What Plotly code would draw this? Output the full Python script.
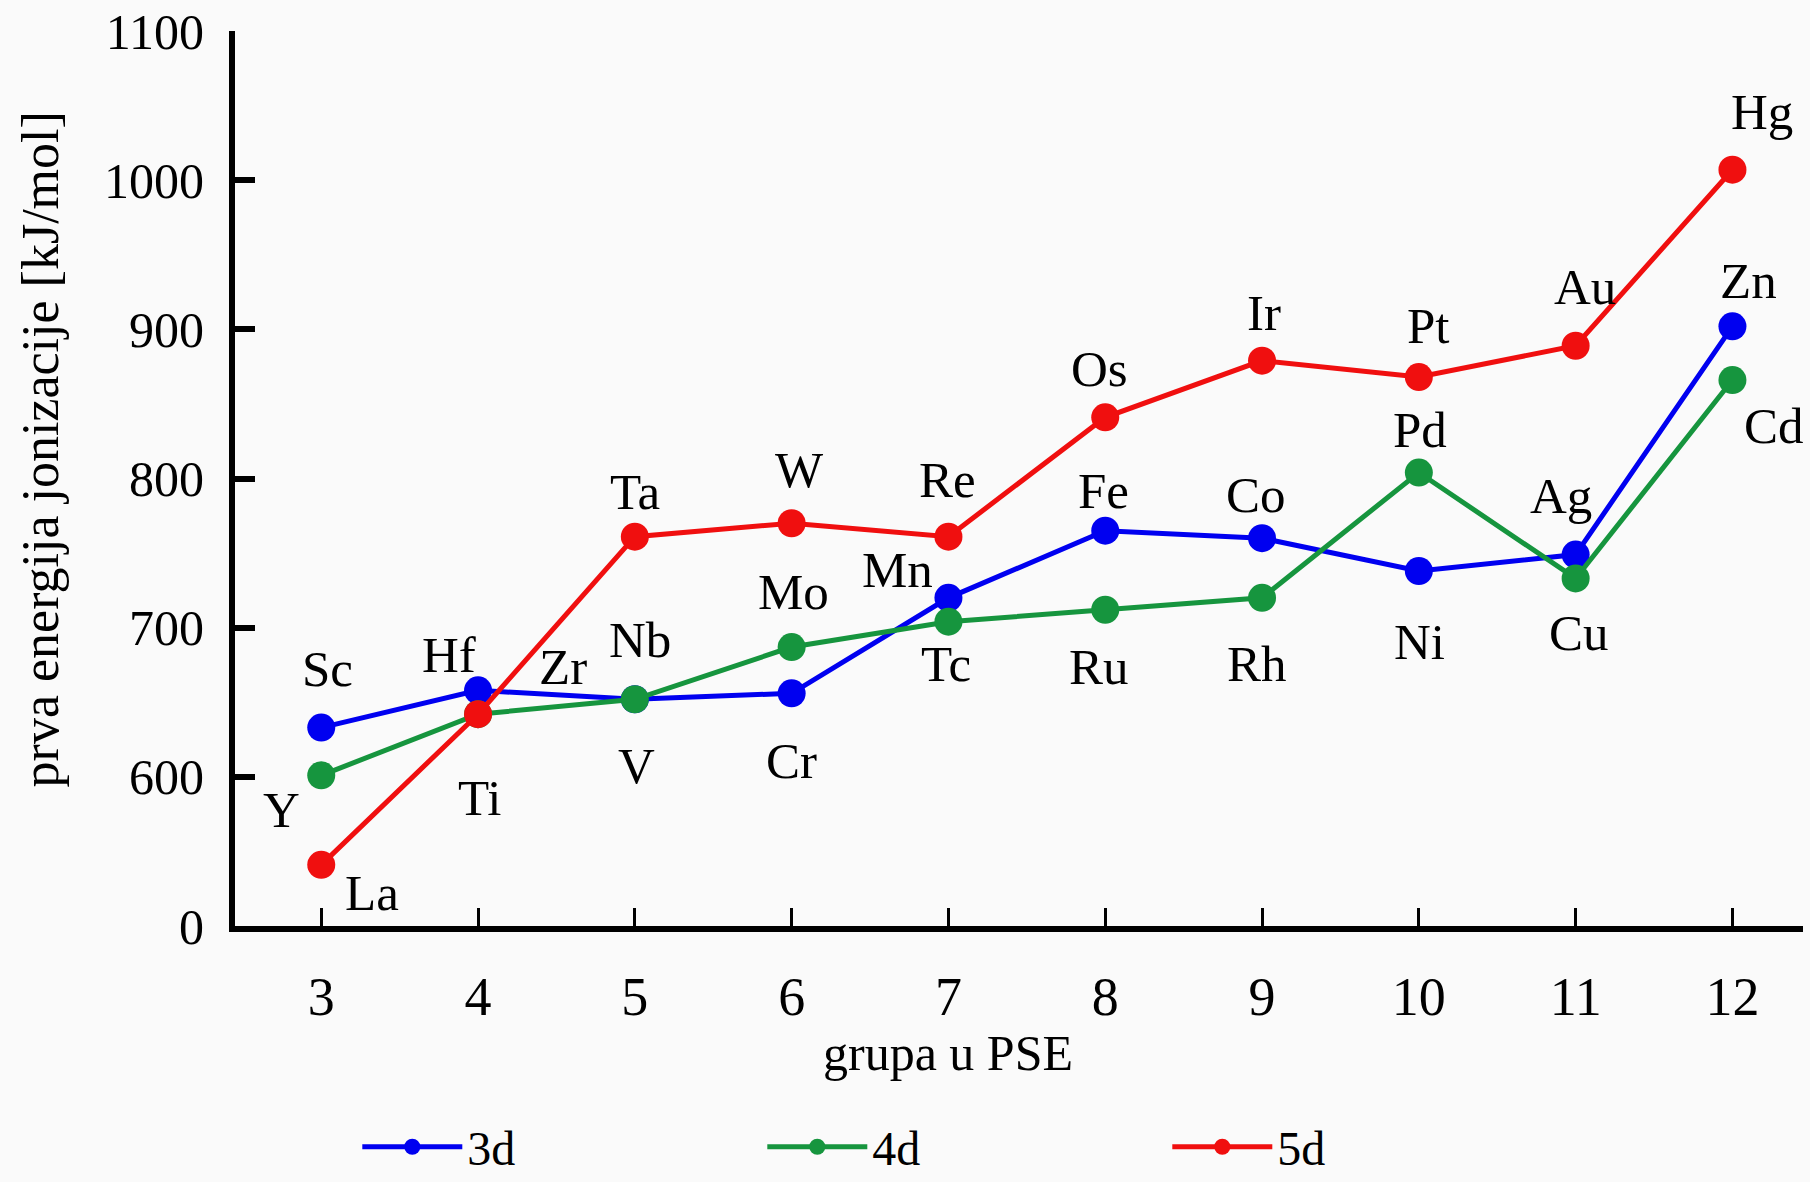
import plotly.graph_objects as go

# ---- data ----
groups = [3, 4, 5, 6, 7, 8, 9, 10, 11, 12]
ie_3d = [633, 658, 652, 656, 720, 765, 760, 738, 749, 902]
ie_4d = [601, 642, 652, 687, 704, 712, 720, 804, 733, 866]
ie_5d = [541, 642, 761, 770, 761, 841, 879, 868, 889, 1007]

labels_3d = ["Sc", "Ti", "V", "Cr", "Mn", "Fe", "Co", "Ni", "Ag", "Zn"]
labels_4d = ["Y", "Zr", "Nb", "Mo", "Tc", "Ru", "Rh", "Pd", "Cu", "Cd"]
labels_5d = ["La", "Hf", "Ta", "W", "Re", "Os", "Ir", "Pt", "Au", "Hg"]

series_names = ["3d", "4d", "5d"]

y_tickvals = [500, 600, 700, 800, 900, 1000, 1100]
y_ticktext = ["0", "600", "700", "800", "900", "1000", "1100"]
x_tickvals = [3, 4, 5, 6, 7, 8, 9, 10, 11, 12]

# ---- label offsets (pixels, relative to each point) ----
shift_3d = [(6, 59), (2, -108), (2, -67), (0, -68), (-51, 28), (-2, 40), (-6, 43), (1, -71), (-15, 59), (16, 45)]
shift_4d = [(-40, -35), (85, 47), (5, 59), (2, 55), (-2, -42), (-6, -57), (-5, -66), (1, 43), (3, -55), (42, -46)]
shift_5d = [(51, -28), (-29, 59), (0, 45), (8, 53), (-1, 57), (-6, 48), (2, 48), (10, 51), (9, 59), (30, 58)]

colors = ["#0000f0", "#16953e", "#f00f0f"]
FONT = "Liberation Serif"

fig = go.Figure()
for name, vals, col in zip(series_names, [ie_3d, ie_4d, ie_5d], colors):
    fig.add_trace(go.Scatter(
        x=groups, y=vals, mode="lines+markers", name=name,
        line=dict(color=col, width=5),
        marker=dict(color=col, size=28),
    ))

annotations = []
for labs, vals, shifts in [(labels_3d, ie_3d, shift_3d), (labels_4d, ie_4d, shift_4d), (labels_5d, ie_5d, shift_5d)]:
    for g, v, lab, (dx, dy) in zip(groups, vals, labs, shifts):
        annotations.append(dict(
            x=g, y=v, xref="x", yref="y", text=lab, showarrow=False,
            xshift=dx, yshift=dy, xanchor="center", yanchor="middle",
            font=dict(family=FONT, size=51, color="black"),
        ))

annotations.append(dict(
    x=7, y=-0.142, xref="x", yref="paper", text="grupa u PSE", showarrow=False,
    xanchor="center", yanchor="middle", font=dict(family=FONT, size=50, color="black"),
))
annotations.append(dict(
    x=-0.124, y=0.532, xref="paper", yref="paper", text="prva energija jonizacije [kJ/mol]",
    showarrow=False, textangle=-90, xanchor="center", yanchor="middle",
    font=dict(family=FONT, size=52, color="black"),
))

fig.update_layout(
    width=1810, height=1182,
    margin=dict(l=235, r=7, t=31, b=256, autoexpand=False),
    paper_bgcolor="#fafafa", plot_bgcolor="#fafafa",
    font=dict(family=FONT, size=46, color="black"),
    showlegend=True,
    legend=dict(
        orientation="h", x=0.078, y=-0.247, xanchor="left", yanchor="middle",
        entrywidth=290, entrywidthmode="pixels",
        font=dict(family=FONT, size=48, color="black"),
        bgcolor="rgba(0,0,0,0)", itemwidth=100,
    ),
    annotations=annotations,
)

fig.update_xaxes(
    range=[2.45, 12.45], tickvals=x_tickvals, ticks="inside", ticklen=18, tickwidth=2.5,
    tickcolor="black", showline=True, linewidth=6, linecolor="black", showgrid=False,
    zeroline=False, ticklabelstandoff=18, automargin=False,
    tickfont=dict(family=FONT, size=54, color="black"),
)
fig.update_yaxes(
    range=[500, 1100], tickvals=y_tickvals, ticktext=y_ticktext, ticks="inside",
    ticklen=20, tickwidth=6, tickcolor="black", showline=True, linewidth=6,
    linecolor="black", showgrid=False, zeroline=False, ticklabelstandoff=15,
    automargin=False,
    tickfont=dict(family=FONT, size=50, color="black"),
)

fig.write_html(
    "out.html",
    config={"displayModeBar": False},
    post_script="document.body.style.margin='0';document.body.style.background='#fafafa';",
)
